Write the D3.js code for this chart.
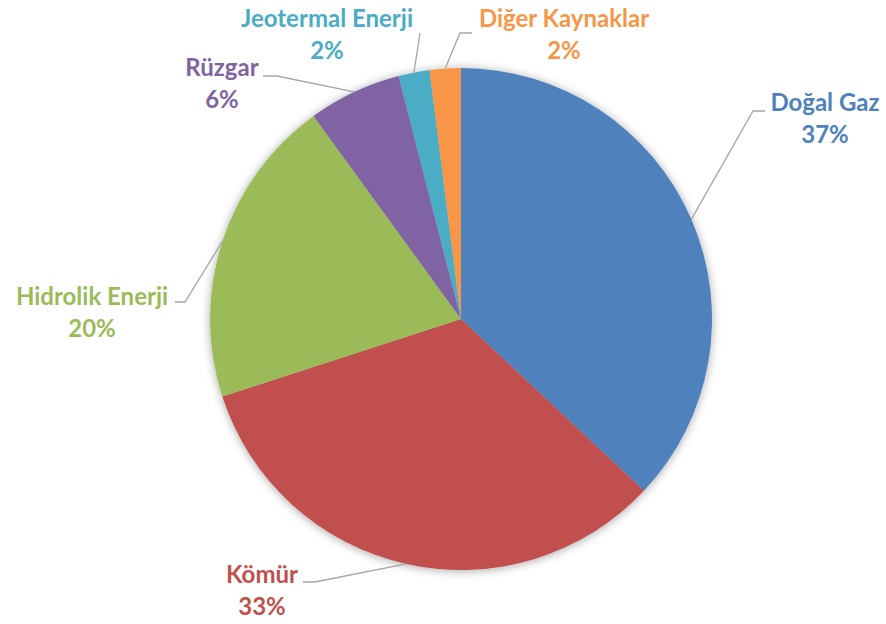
<!DOCTYPE html>
<html><head><meta charset="utf-8">
<script src="https://cdn.jsdelivr.net/npm/d3@7"></script>
<style>html,body{margin:0;padding:0;background:#fff;}svg{display:block;}</style>
</head><body>
<svg id="c" width="886" height="624"></svg>
<script>
const categories = ["Doğal Gaz","Kömür","Hidrolik Enerji","Rüzgar","Jeotermal Enerji","Diğer Kaynaklar"];
const values = [37,33,20,6,2,2];
const colors = ["#4F81BD","#C0504D","#9BBB59","#8064A2","#4BACC6","#F79646"];
// label layout: text anchor (dx,dy relative to centre), leader elbow & end
const labelPos = [
  {tx:364, ty:-208, ex:292, ey:-208, hx:304, hy:-208},
  {tx:-199, ty:264, ex:-146, ey:263, hx:-158, hy:263},
  {tx:-369, ty:-14, ex:-276, ey:-17, hx:-286, hy:-17},
  {tx:-239, ty:-243, ex:-184, ey:-243, hx:-198, hy:-243},
  {tx:-134, ty:-292, ex:-41, ey:-286, hx:-41, hy:-286},
  {tx:103, ty:-292, ex:-1, ey:-286, hx:11, hy:-286}
];
const cx=461, cy=319, r=251;
const svg=d3.select("#c");
const defs=svg.append("defs");
const f=defs.append("filter").attr("id","sh").attr("x","-20%").attr("y","-20%").attr("width","140%").attr("height","140%");
f.append("feDropShadow").attr("dx",0).attr("dy",1).attr("stdDeviation",5).attr("flood-color","#000").attr("flood-opacity",0.35);
const data=categories.map((c,i)=>({c,v:values[i],col:colors[i],lp:labelPos[i]}));
const pie=d3.pie().value(d=>d.v).sort(null);
const arc=d3.arc().innerRadius(0).outerRadius(r);
const arcs=pie(data);
const g=svg.append("g").attr("transform",`translate(${cx},${cy})`);
const pg=g.append("g").attr("filter","url(#sh)");
pg.selectAll("path").data(arcs).join("path").attr("d",arc).attr("fill",d=>d.data.col);
const edge=d3.arc().innerRadius(r).outerRadius(r);
g.selectAll("polyline").data(arcs).join("polyline")
  .attr("points",d=>{const p=edge.centroid(d);const l=d.data.lp;return [p,[l.ex,l.ey],[l.hx,l.hy]].map(q=>q.join(",")).join(" ");})
  .attr("fill","none").attr("stroke","#A6A6A6").attr("stroke-width",1.3);
const t=g.selectAll("text").data(arcs).join("text")
  .attr("text-anchor","middle").attr("fill",d=>d.data.col)
  .style("font-family","Lato, 'Open Sans', sans-serif").style("font-weight","bold").style("font-size","24px");
t.append("tspan").attr("x",d=>d.data.lp.tx).attr("y",d=>d.data.lp.ty).text(d=>d.data.c);
t.append("tspan").attr("x",d=>d.data.lp.tx).attr("y",d=>d.data.lp.ty+32).text(d=>d.data.v+"%");
</script>
</body></html>
